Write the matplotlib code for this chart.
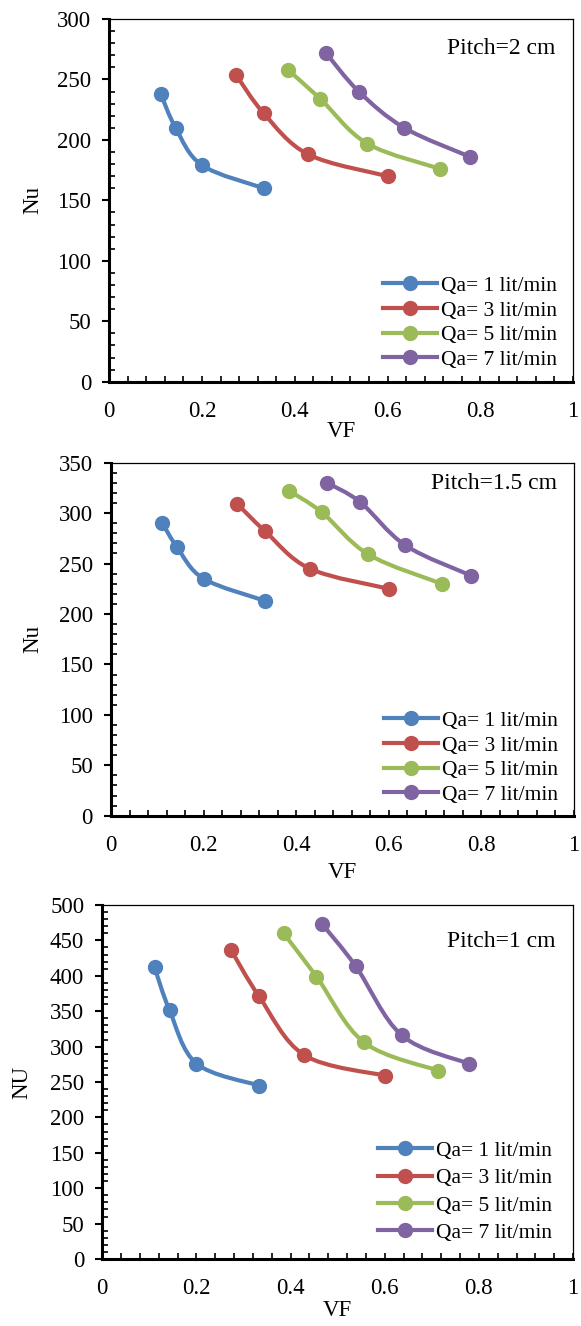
import matplotlib
matplotlib.use("Agg")
import matplotlib.pyplot as plt
from matplotlib.path import Path
from matplotlib.patches import PathPatch
from matplotlib.lines import Line2D
from matplotlib.ticker import MultipleLocator
import numpy as np

plt.rcParams['font.family'] = ['Liberation Serif', 'DejaVu Serif']

# ---- data ----
series_labels = ["Qa= 1 lit/min", "Qa= 3 lit/min", "Qa= 5 lit/min", "Qa= 7 lit/min"]
colors = ["#4F81BD", "#C0504D", "#9BBB59", "#8064A2"]

vf_q1 = [0.111, 0.143, 0.200, 0.333]
vf_q3 = [0.273, 0.333, 0.429, 0.600]
vf_q5 = [0.385, 0.455, 0.556, 0.714]
vf_q7 = [0.467, 0.538, 0.636, 0.778]

nu_p2_q1 = [238, 210, 179, 160]
nu_p2_q3 = [254, 222, 188, 170]
nu_p2_q5 = [258, 234, 197, 176]
nu_p2_q7 = [272, 240, 210, 186]

nu_p15_q1 = [290, 266, 235, 213]
nu_p15_q3 = [309, 282, 245, 225]
nu_p15_q5 = [322, 301, 259, 230]
nu_p15_q7 = [330, 311, 268, 238]

nu_p1_q1 = [412, 351, 276, 245]
nu_p1_q3 = [437, 371, 288, 259]
nu_p1_q5 = [460, 399, 306, 266]
nu_p1_q7 = [473, 414, 316, 276]

xtick_vals = [0, 0.2, 0.4, 0.6, 0.8, 1.0]
xtick_labels = ["0", "0.2", "0.4", "0.6", "0.8", "1"]

panels = [
    dict(title="Pitch=2 cm", ylabel="Nu", ymax=300,
         ys=[nu_p2_q1, nu_p2_q3, nu_p2_q5, nu_p2_q7]),
    dict(title="Pitch=1.5 cm", ylabel="Nu", ymax=350,
         ys=[nu_p15_q1, nu_p15_q3, nu_p15_q5, nu_p15_q7]),
    dict(title="Pitch=1 cm", ylabel="NU", ymax=500,
         ys=[nu_p1_q1, nu_p1_q3, nu_p1_q5, nu_p1_q7]),
]
xs = [vf_q1, vf_q3, vf_q5, vf_q7]

# ---- layout (pixels) ----
W, H = 581, 1326
boxes = [  # left, right, top, bottom
    (109.3, 573, 19, 381.7),
    (111, 574, 462.7, 815.7),
    (102.3, 573, 905, 1259),
]
leg_cfg = [  # anchor x, anchor y (axes coords, lower right), labelspacing
    (0.975, 0.021, 0.21),
    (0.975, 0.019, 0.21),
    (0.965, 0.033, 0.34),
]
text_y = [0.918, 0.94, 0.898]
ylabel_x = [33, 33, 22]
xlabel_y = [432, 872, 1310]

FS_TICK = 16.5
FS_LEG = 15.5
FS_PITCH = 17
FS_LABEL = 16.5


def smooth_path(x, y):
    x = np.asarray(x, float)
    y = np.asarray(y, float)
    P = np.column_stack([x, y])
    n = len(P)
    verts = [P[0]]
    codes = [Path.MOVETO]
    for i in range(n - 1):
        p0 = P[i - 1] if i > 0 else P[i]
        p1 = P[i]
        p2 = P[i + 1]
        p3 = P[i + 2] if i + 2 < n else P[i + 1]
        c1 = p1 + (p2 - p0) / 6.0
        c2 = p2 - (p3 - p1) / 6.0
        verts += [c1, c2, p2]
        codes += [Path.CURVE4] * 3
    return Path(verts, codes)


fig = plt.figure(figsize=(W / 100, H / 100), dpi=100)

for k, pan in enumerate(panels):
    l, r, t, b = boxes[k]
    ax = fig.add_axes([l / W, 1 - b / H, (r - l) / W, (b - t) / H])
    for x, y, c in zip(xs, pan["ys"], colors):
        patch = PathPatch(smooth_path(x, y), facecolor="none", edgecolor=c,
                          lw=3.0, capstyle="round", joinstyle="round", zorder=2)
        ax.add_patch(patch)
        ax.plot(x, y, linestyle="none", marker="o", ms=10, color=c, zorder=3)
    ax.set_xlim(0, 1)
    ax.set_ylim(0, pan["ymax"])
    ax.set_xticks(xtick_vals)
    ax.set_xticklabels(xtick_labels)
    ax.xaxis.set_minor_locator(MultipleLocator(0.04))
    ax.yaxis.set_major_locator(MultipleLocator(50))
    ax.yaxis.set_minor_locator(MultipleLocator(10))
    ax.tick_params(axis="x", which="both", direction="in", length=4.5, width=1.2,
                   labelsize=FS_TICK, pad=14, top=False)
    ax.tick_params(axis="y", which="major", direction="out", length=5, width=1.5,
                   labelsize=FS_TICK, pad=8, right=False)
    ax.tick_params(axis="y", which="minor", direction="in", length=4.5, width=1.2,
                   right=False)
    for s in ["left", "bottom"]:
        ax.spines[s].set_linewidth(2.2)
    for s in ["top", "right"]:
        ax.spines[s].set_linewidth(0.9)
    ax.text(0.963, text_y[k], pan["title"], transform=ax.transAxes,
            ha="right", va="center", fontsize=FS_PITCH)
    handles = [Line2D([], [], color=c, lw=3.0, marker="o", ms=10) for c in colors]
    ax_x, ax_y, ls = leg_cfg[k]
    ax.legend(handles, series_labels, loc="lower right",
              bbox_to_anchor=(ax_x, ax_y), frameon=False, fontsize=FS_LEG,
              handlelength=2.5, handletextpad=0.2, labelspacing=ls,
              borderpad=0.2, borderaxespad=0)
    fig.text(ylabel_x[k] / W, 1 - ((t + b) / 2) / H, pan["ylabel"], rotation=90,
             ha="center", va="center", fontsize=FS_LABEL)
    fig.text(((l + r) / 2) / W, 1 - xlabel_y[k] / H, "VF",
             ha="center", va="center", fontsize=FS_LABEL)

fig.savefig("out.png", dpi=100)
